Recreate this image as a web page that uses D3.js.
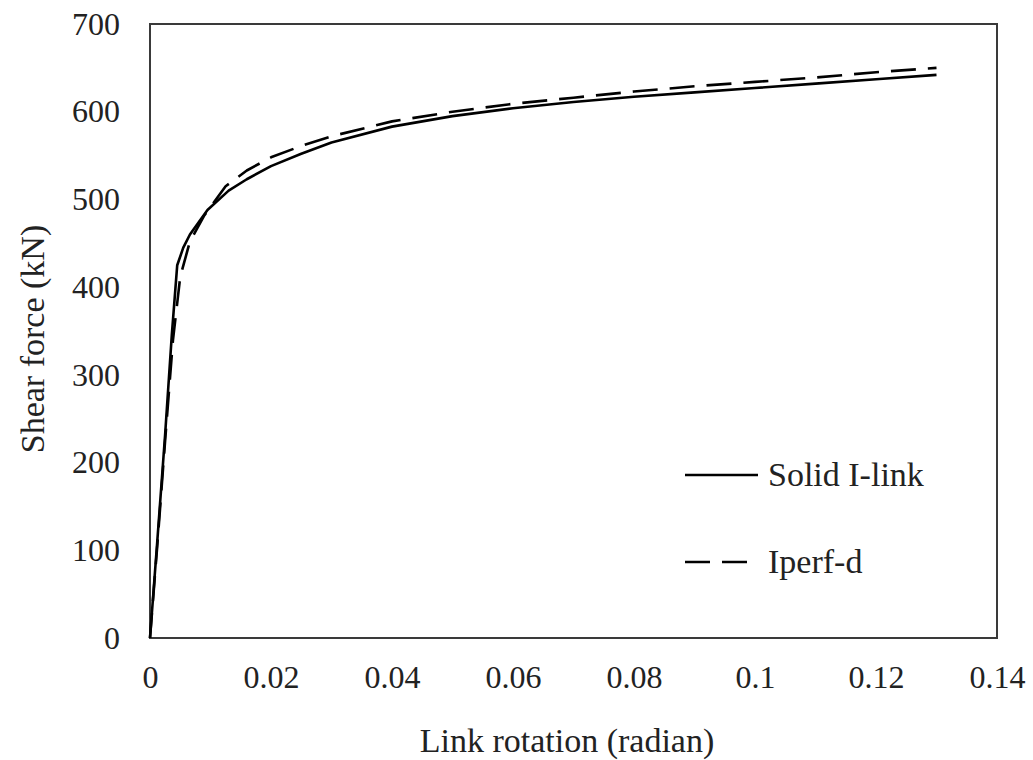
<!DOCTYPE html>
<html>
<head>
<meta charset="utf-8">
<script src="https://cdn.jsdelivr.net/npm/d3@7"></script>
<style>
  html, body { margin: 0; padding: 0; background: #fff; }
  svg text { font-family: "Liberation Serif", "Times New Roman", serif; fill: #222; }
</style>
</head>
<body>
<svg id="chart" width="1033" height="760"></svg>
<script>
// Link rotation (radian) vs. shear force (kN)
const solidRotation = [0, 0.0012, 0.0025, 0.0036, 0.0045, 0.0055, 0.0066, 0.0095, 0.013, 0.016, 0.02, 0.025, 0.03, 0.04, 0.05, 0.06, 0.07, 0.08, 0.09, 0.1, 0.11, 0.12, 0.13];
const solidShear    = [0, 110, 232, 345, 425, 445, 460, 488, 510, 523, 538, 552, 565, 583, 595, 604, 611, 617, 622, 627, 632, 637, 642];

const perfRotation = [0, 0.0012, 0.0025, 0.0038, 0.005, 0.0066, 0.009, 0.0125, 0.016, 0.02, 0.025, 0.03, 0.04, 0.05, 0.06, 0.07, 0.08, 0.09, 0.1, 0.11, 0.12, 0.13];
const perfShear    = [0, 105, 225, 340, 412, 452, 482, 515, 533, 548, 561, 572, 589, 600, 609, 616, 623, 629, 634, 639, 645, 650];

const xTicks = [0, 0.02, 0.04, 0.06, 0.08, 0.1, 0.12, 0.14];
const yTicks = [0, 100, 200, 300, 400, 500, 600, 700];

const seriesNames = ["Solid I-link", "Iperf-d"];

const svg = d3.select("#chart");
const W = 1033, H = 760;
const margin = { left: 150, right: W - 997, top: 24, bottom: H - 638 };

const x = d3.scaleLinear().domain([0, 0.14]).range([margin.left, W - margin.right]);
const y = d3.scaleLinear().domain([0, 700]).range([H - margin.bottom, margin.top]);

const tickFont = 32;
const titleFont = 34;

// y tick labels
const yAxis = d3.axisLeft(y).tickValues(yTicks).tickSize(0).tickPadding(30).tickFormat(d3.format("d"));
const gy = svg.append("g").attr("transform", `translate(${margin.left},0)`).call(yAxis);
gy.select(".domain").remove();
gy.selectAll("text").style("font-size", tickFont + "px").attr("fill", "#222");

// x tick labels
const xAxis = d3.axisBottom(x).tickValues(xTicks).tickSize(0).tickPadding(27)
  .tickFormat(d => d === 0 ? "0" : String(+d.toFixed(2)));
const gx = svg.append("g").attr("transform", `translate(0,${H - margin.bottom})`).call(xAxis);
gx.select(".domain").remove();
gx.selectAll("text").style("font-size", tickFont + "px").attr("fill", "#222");

// plot frame
svg.append("rect")
  .attr("x", x(0)).attr("y", y(700))
  .attr("width", x(0.14) - x(0)).attr("height", y(0) - y(700))
  .attr("fill", "none").attr("stroke", "#3a3a3a").attr("stroke-width", 2);

const line = d3.line().x(d => x(d[0])).y(d => y(d[1]));

const solidData = solidRotation.map((r, i) => [r, solidShear[i]]);
const perfData = perfRotation.map((r, i) => [r, perfShear[i]]);

svg.append("path").datum(perfData)
  .attr("d", line).attr("fill", "none").attr("stroke", "#000")
  .attr("stroke-width", 2.6).attr("stroke-dasharray", "25,12").attr("stroke-linejoin", "round");

svg.append("path").datum(solidData)
  .attr("d", line).attr("fill", "none").attr("stroke", "#000")
  .attr("stroke-width", 2.6).attr("stroke-linejoin", "round");

// axis titles
svg.append("text")
  .attr("x", 567).attr("y", 752)
  .attr("text-anchor", "middle").style("font-size", titleFont + "px")
  .text("Link rotation (radian)");

svg.append("text")
  .attr("transform", `translate(44,339) rotate(-90)`)
  .attr("text-anchor", "middle").style("font-size", titleFont + "px")
  .text("Shear force (kN)");

// legend
const legend = svg.append("g");
const legendRows = [
  { name: seriesNames[0], y: 475, dash: null, x2: 758 },
  { name: seriesNames[1], y: 562, dash: "25,12", x2: 750 }
];
legendRows.forEach(r => {
  legend.append("line")
    .attr("x1", 685).attr("x2", r.x2).attr("y1", r.y).attr("y2", r.y)
    .attr("stroke", "#000").attr("stroke-width", 2.6)
    .attr("stroke-dasharray", r.dash);
  legend.append("text")
    .attr("x", 768).attr("y", r.y + 11)
    .style("font-size", titleFont + "px")
    .text(r.name);
});
</script>
</body>
</html>
